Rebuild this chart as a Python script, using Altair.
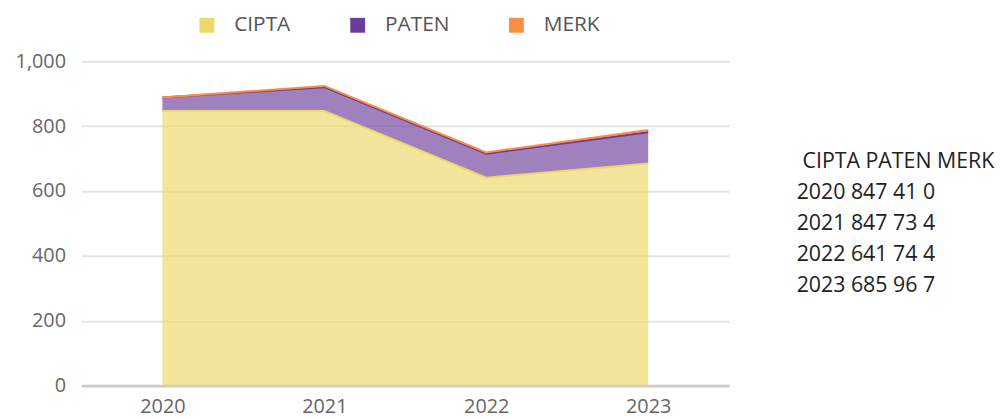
import altair as alt
import pandas as pd

years = ["2020", "2021", "2022", "2023"]
series = ["CIPTA", "PATEN", "MERK"]
cipta = [847, 847, 641, 685]
paten = [41, 73, 74, 96]
merk = [0, 4, 4, 7]
colors = ["#EAD867", "#6A3D9A", "#FD8C45"]

values = {"CIPTA": cipta, "PATEN": paten, "MERK": merk}
rows = []
for s_i, s in enumerate(series):
    for y_i, yr in enumerate(years):
        rows.append({"year": yr, "series": s, "value": values[s][y_i], "order": s_i})
df = pd.DataFrame(rows)

lines = [{"row": 0, "text": " ".join(series), "header": 1}]
for i, yr in enumerate(years):
    lines.append({"row": i + 1, "text": f"{yr} {cipta[i]} {paten[i]} {merk[i]}", "header": 0})
tdf = pd.DataFrame(lines)

FONT = "Open Sans"

area = alt.Chart(df).mark_area(
    fillOpacity=0.65,
    line=alt.OverlayMarkDef(strokeWidth=2, opacity=1),
).encode(
    x=alt.X("year:O", title=None,
            scale=alt.Scale(type="point", padding=0.5),
            axis=alt.Axis(labelAngle=0, ticks=False, domainColor="#cccccc", domainWidth=3,
                          labelColor="#666666", labelFontSize=20, labelFont=FONT,
                          labelPadding=11, grid=False)),
    y=alt.Y("value:Q", stack="zero", title=None,
            scale=alt.Scale(domain=[0, 1000]),
            axis=alt.Axis(values=[0, 200, 400, 600, 800, 1000], format=",d", ticks=False, domain=False,
                          gridColor="#e4e4e4", gridWidth=2, labelColor="#666666",
                          labelFontSize=20, labelFont=FONT, labelPadding=16)),
    color=alt.Color("series:N", scale=alt.Scale(domain=series, range=colors),
                    legend=alt.Legend(title=None, orient="none", direction="horizontal",
                                      legendX=116, legendY=-47,
                                      symbolType="square", symbolSize=225, symbolOpacity=1,
                                      symbolStrokeWidth=0, labelFontSize=21, labelFont=FONT,
                                      labelColor="#555555", labelOffset=17, columnPadding=57)),
    order=alt.Order("order:Q"),
).properties(width=653, height=327)

body = alt.Chart(tdf).transform_filter("datum.header == 0").mark_text(
    align="left", baseline="middle", fontSize=21.5, font=FONT, color="#222222"
).encode(
    x=alt.value(0),
    y=alt.Y("row:Q", scale=alt.Scale(domain=[0, 4], range=[102, 227]), axis=None),
    text="text:N",
)
head = alt.Chart(tdf).transform_filter("datum.header == 1").mark_text(
    align="left", baseline="middle", fontSize=21.5, font=FONT, color="#222222", dx=6
).encode(
    x=alt.value(0),
    y=alt.Y("row:Q", scale=alt.Scale(domain=[0, 4], range=[102, 227]), axis=None),
    text="text:N",
)
table = alt.layer(body, head).properties(width=200, height=327)

chart = alt.hconcat(area, table, spacing=68).configure_view(stroke=None).properties(
    padding={"top": 5, "left": 7, "right": 5, "bottom": 5}
)

chart.save("out.html", embed_options={"renderer": "svg", "actions": False})
